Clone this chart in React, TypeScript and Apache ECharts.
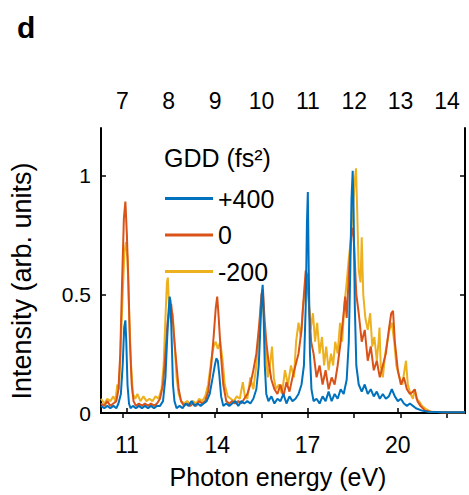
import React, { useEffect, useRef } from "react";
import * as echarts from "echarts";

const FONT = "'Liberation Sans', Arial, Helvetica, sans-serif";

const seriesNames = ["+400", "0", "-200"];
const seriesColors = ["#0072BD", "#D95319", "#EDB120"];
const energyTicks = [11, 14, 17, 20];
const harmonicOrders = [7, 8, 9, 10, 11, 12, 13, 14];
const harmonicEnergies = [10.85, 12.39, 13.93, 15.47, 17.01, 18.55, 20.09, 21.63];
const intensityTicks = [0, 0.5, 1];

// GDD = +400 fs^2 (blue)
const gddPlus400: [number, number][] = [
  [10.14, 0.03], [10.25, 0.02], [10.35, 0.03], [10.45, 0.02], [10.55, 0.03], [10.65, 0.02], [10.72, 0.04],
  [10.8, 0.08], [10.86, 0.2], [10.91, 0.36], [10.95, 0.39], [10.98, 0.3], [11.02, 0.12], [11.07, 0.04],
  [11.12, 0.02], [11.2, 0.03], [11.3, 0.02], [11.4, 0.03], [11.5, 0.02], [11.6, 0.03], [11.7, 0.02],
  [11.8, 0.03], [11.9, 0.02], [12.0, 0.03], [12.1, 0.03], [12.2, 0.05], [12.28, 0.15], [12.34, 0.32],
  [12.38, 0.42], [12.42, 0.49], [12.45, 0.47], [12.49, 0.3], [12.53, 0.12], [12.58, 0.05], [12.65, 0.02],
  [12.75, 0.03], [12.85, 0.02], [12.95, 0.04], [13.05, 0.03], [13.15, 0.05], [13.25, 0.03], [13.35, 0.04],
  [13.45, 0.03], [13.55, 0.04], [13.65, 0.05], [13.75, 0.08], [13.85, 0.15], [13.92, 0.2], [13.97, 0.23],
  [14.02, 0.22], [14.07, 0.16], [14.13, 0.07], [14.2, 0.03], [14.3, 0.04], [14.4, 0.03], [14.5, 0.04],
  [14.6, 0.05], [14.7, 0.03], [14.8, 0.05], [14.9, 0.04], [15.0, 0.05], [15.1, 0.04], [15.2, 0.06],
  [15.3, 0.1], [15.38, 0.2], [15.44, 0.38], [15.48, 0.5], [15.51, 0.54], [15.54, 0.42], [15.58, 0.2],
  [15.63, 0.08], [15.7, 0.05], [15.8, 0.07], [15.9, 0.04], [16.0, 0.06], [16.1, 0.05], [16.2, 0.08],
  [16.3, 0.04], [16.4, 0.07], [16.5, 0.05], [16.6, 0.06], [16.7, 0.08], [16.8, 0.12], [16.88, 0.2],
  [16.94, 0.45], [16.98, 0.8], [17.01, 0.93], [17.04, 0.6], [17.08, 0.25], [17.13, 0.1], [17.2, 0.05],
  [17.3, 0.06], [17.4, 0.04], [17.5, 0.07], [17.6, 0.05], [17.7, 0.09], [17.8, 0.05], [17.9, 0.08],
  [18.0, 0.06], [18.1, 0.1], [18.2, 0.08], [18.3, 0.14], [18.37, 0.3], [18.42, 0.6], [18.46, 0.9],
  [18.5, 1.02], [18.53, 0.85], [18.57, 0.45], [18.62, 0.2], [18.7, 0.12], [18.8, 0.09], [18.9, 0.12],
  [19.0, 0.08], [19.1, 0.1], [19.2, 0.07], [19.3, 0.09], [19.4, 0.06], [19.5, 0.08], [19.6, 0.06],
  [19.7, 0.07], [19.8, 0.1], [19.9, 0.07], [20.0, 0.05], [20.1, 0.06], [20.2, 0.04], [20.3, 0.03],
  [20.4, 0.04], [20.5, 0.03], [20.6, 0.02], [20.8, 0.01], [21.0, 0.005], [21.5, 0.003], [22.23, 0.003],
];

// GDD = 0 fs^2 (orange)
const gddZero: [number, number][] = [
  [10.14, 0.04], [10.25, 0.03], [10.35, 0.05], [10.45, 0.03], [10.55, 0.04], [10.65, 0.05], [10.72, 0.1],
  [10.78, 0.25], [10.84, 0.55], [10.9, 0.82], [10.95, 0.89], [11.0, 0.75], [11.05, 0.55], [11.1, 0.3],
  [11.16, 0.12], [11.22, 0.05], [11.3, 0.03], [11.4, 0.04], [11.5, 0.03], [11.6, 0.04], [11.7, 0.03],
  [11.8, 0.04], [11.9, 0.03], [12.0, 0.04], [12.1, 0.06], [12.2, 0.12], [12.28, 0.25], [12.35, 0.38],
  [12.42, 0.44], [12.47, 0.46], [12.52, 0.4], [12.58, 0.3], [12.65, 0.2], [12.72, 0.1], [12.8, 0.05],
  [12.9, 0.03], [13.0, 0.04], [13.1, 0.03], [13.2, 0.04], [13.3, 0.03], [13.4, 0.05], [13.5, 0.04],
  [13.6, 0.05], [13.7, 0.09], [13.8, 0.2], [13.88, 0.32], [13.95, 0.44], [14.0, 0.49], [14.05, 0.4],
  [14.12, 0.25], [14.2, 0.12], [14.3, 0.05], [14.4, 0.04], [14.5, 0.05], [14.6, 0.04], [14.7, 0.05],
  [14.8, 0.04], [14.9, 0.06], [15.0, 0.08], [15.1, 0.12], [15.2, 0.18], [15.3, 0.25], [15.4, 0.38],
  [15.47, 0.5], [15.52, 0.52], [15.57, 0.4], [15.63, 0.3], [15.7, 0.22], [15.8, 0.14], [15.9, 0.1],
  [16.0, 0.08], [16.1, 0.12], [16.2, 0.07], [16.3, 0.13], [16.4, 0.09], [16.5, 0.15], [16.6, 0.2],
  [16.7, 0.25], [16.8, 0.35], [16.88, 0.5], [16.94, 0.6], [16.99, 0.58], [17.05, 0.45], [17.12, 0.3],
  [17.2, 0.25], [17.3, 0.15], [17.4, 0.2], [17.5, 0.12], [17.6, 0.18], [17.7, 0.1], [17.8, 0.15],
  [17.9, 0.12], [18.0, 0.2], [18.1, 0.3], [18.2, 0.42], [18.25, 0.49], [18.3, 0.4], [18.38, 0.6],
  [18.45, 0.75], [18.5, 0.78], [18.55, 0.7], [18.62, 0.5], [18.7, 0.42], [18.8, 0.3], [18.9, 0.35],
  [19.0, 0.22], [19.1, 0.28], [19.2, 0.18], [19.3, 0.22], [19.4, 0.15], [19.5, 0.2], [19.6, 0.25],
  [19.7, 0.35], [19.78, 0.42], [19.84, 0.43], [19.9, 0.3], [20.0, 0.18], [20.1, 0.12], [20.2, 0.15],
  [20.3, 0.1], [20.4, 0.08], [20.5, 0.09], [20.56, 0.1], [20.65, 0.05], [20.75, 0.03], [20.9, 0.01],
  [21.1, 0.005], [21.5, 0.003], [22.23, 0.003],
];

// GDD = -200 fs^2 (yellow)
const gddMinus200: [number, number][] = [
  [10.14, 0.06], [10.25, 0.04], [10.35, 0.06], [10.45, 0.05], [10.55, 0.07], [10.62, 0.05], [10.68, 0.12],
  [10.74, 0.1], [10.8, 0.3], [10.86, 0.5], [10.92, 0.68], [10.97, 0.72], [11.02, 0.65], [11.08, 0.4],
  [11.14, 0.2], [11.2, 0.08], [11.28, 0.06], [11.35, 0.08], [11.45, 0.05], [11.55, 0.07], [11.65, 0.05],
  [11.75, 0.06], [11.85, 0.05], [11.95, 0.07], [12.05, 0.06], [12.15, 0.1], [12.22, 0.2], [12.28, 0.4],
  [12.33, 0.55], [12.36, 0.57], [12.4, 0.45], [12.46, 0.38], [12.52, 0.42], [12.58, 0.3], [12.65, 0.15],
  [12.72, 0.08], [12.8, 0.05], [12.9, 0.04], [13.0, 0.05], [13.1, 0.04], [13.2, 0.05], [13.3, 0.04],
  [13.4, 0.06], [13.5, 0.05], [13.6, 0.07], [13.7, 0.12], [13.8, 0.22], [13.88, 0.28], [13.95, 0.3],
  [14.02, 0.27], [14.1, 0.3], [14.18, 0.22], [14.25, 0.12], [14.35, 0.07], [14.45, 0.06], [14.55, 0.05],
  [14.65, 0.07], [14.75, 0.06], [14.85, 0.13], [14.92, 0.07], [15.0, 0.06], [15.1, 0.15], [15.2, 0.1],
  [15.3, 0.2], [15.38, 0.32], [15.45, 0.45], [15.5, 0.5], [15.56, 0.38], [15.62, 0.25], [15.68, 0.15],
  [15.75, 0.2], [15.82, 0.28], [15.88, 0.15], [15.95, 0.1], [16.05, 0.12], [16.15, 0.08], [16.25, 0.18],
  [16.35, 0.12], [16.45, 0.2], [16.55, 0.15], [16.62, 0.3], [16.7, 0.38], [16.78, 0.32], [16.85, 0.45],
  [16.92, 0.52], [16.98, 0.55], [17.04, 0.48], [17.1, 0.35], [17.18, 0.42], [17.25, 0.3], [17.32, 0.38],
  [17.4, 0.25], [17.48, 0.32], [17.55, 0.2], [17.62, 0.28], [17.7, 0.18], [17.78, 0.25], [17.85, 0.2],
  [17.92, 0.3], [18.0, 0.25], [18.08, 0.38], [18.15, 0.3], [18.22, 0.45], [18.3, 0.55], [18.37, 0.65],
  [18.43, 0.72], [18.5, 0.85], [18.57, 0.98], [18.61, 1.03], [18.65, 0.85], [18.7, 0.6], [18.76, 0.55],
  [18.8, 0.74], [18.85, 0.5], [18.92, 0.4], [19.0, 0.35], [19.08, 0.42], [19.15, 0.28], [19.22, 0.32],
  [19.3, 0.22], [19.36, 0.3], [19.39, 0.36], [19.43, 0.2], [19.5, 0.15], [19.58, 0.25], [19.65, 0.3],
  [19.72, 0.35], [19.8, 0.38], [19.88, 0.3], [19.95, 0.2], [20.05, 0.15], [20.15, 0.12], [20.22, 0.18],
  [20.27, 0.22], [20.33, 0.12], [20.42, 0.08], [20.5, 0.06], [20.56, 0.1], [20.62, 0.06], [20.7, 0.05],
  [20.8, 0.03], [20.95, 0.015], [21.1, 0.005], [21.5, 0.003], [22.23, 0.003],
];

const X_MIN = 10.14;
const X_MAX = 22.23;
const Y_MIN = 0;
const Y_MAX = 1.2;

export default function App() {
  const ref = useRef<HTMLDivElement>(null);

  useEffect(() => {
    if (!ref.current) return;
    const chart = echarts.init(ref.current, undefined, { renderer: "svg" });

    const frameLine = { show: true, lineStyle: { color: "#000", width: 2 } };
    const tickStyle = { color: "#000", width: 1.5 };
    const labelBase = { color: "#000", fontFamily: FONT, fontSize: 23 };

    const option: any = {
      animation: false,
      backgroundColor: "#fff",
      grid: { left: 101, right: 4, top: 128, bottom: 82, containLabel: false },
      xAxis: [
        {
          type: "value",
          position: "bottom",
          min: X_MIN,
          max: X_MAX,
          axisLine: frameLine,
          axisTick: { show: true, inside: true, length: 5, customValues: energyTicks, lineStyle: tickStyle },
          axisLabel: { ...labelBase, customValues: energyTicks, margin: 20, formatter: (v: number) => String(v) },
          splitLine: { show: false },
        },
        {
          type: "value",
          position: "top",
          min: X_MIN,
          max: X_MAX,
          axisLine: frameLine,
          axisTick: { show: true, inside: true, length: 5, customValues: harmonicEnergies, lineStyle: tickStyle },
          axisLabel: {
            ...labelBase,
            customValues: harmonicEnergies,
            margin: 16,
            formatter: (v: number) => {
              const i = harmonicEnergies.findIndex((e) => Math.abs(e - v) < 1e-6);
              return i >= 0 ? String(harmonicOrders[i]) : "";
            },
          },
          splitLine: { show: false },
        },
      ],
      yAxis: [
        {
          type: "value",
          position: "left",
          min: Y_MIN,
          max: Y_MAX,
          axisLine: frameLine,
          axisTick: { show: true, inside: true, length: 5, customValues: intensityTicks, lineStyle: tickStyle },
          axisLabel: {
            ...labelBase,
            fontSize: 21,
            customValues: intensityTicks,
            margin: 10,
            formatter: (v: number) => String(v),
          },
          splitLine: { show: false },
        },
        {
          type: "value",
          position: "right",
          min: Y_MIN,
          max: Y_MAX,
          axisLine: frameLine,
          axisTick: { show: true, inside: true, length: 5, customValues: intensityTicks, lineStyle: tickStyle },
          axisLabel: { show: false },
          splitLine: { show: false },
        },
      ],
      legend: {
        data: seriesNames,
        orient: "vertical",
        left: 165,
        top: 186,
        padding: 0,
        itemWidth: 48,
        itemHeight: 3,
        itemGap: 11.5,
        icon: "rect",
        textStyle: { color: "#000", fontFamily: FONT, fontSize: 25, lineHeight: 21 },
      },
      graphic: [
        {
          type: "text",
          x: 17,
          y: 27,
          style: { text: "d", font: `bold 30px ${FONT}`, fill: "#000", align: "left", verticalAlign: "middle" },
        },
        {
          type: "text",
          x: 164,
          y: 158,
          style: { text: "GDD (fs²)", font: `25px ${FONT}`, fill: "#000", align: "left", verticalAlign: "middle" },
        },
        {
          type: "text",
          x: 22,
          y: 281,
          rotation: Math.PI / 2,
          style: {
            text: "Intensity (arb. units)",
            font: `27px ${FONT}`,
            fill: "#000",
            align: "center",
            verticalAlign: "middle",
          },
        },
        {
          type: "text",
          x: 278,
          y: 477,
          style: {
            text: "Photon energy (eV)",
            font: `25px ${FONT}`,
            fill: "#000",
            align: "center",
            verticalAlign: "middle",
          },
        },
      ],
      series: [
        { name: seriesNames[2], data: gddMinus200, color: seriesColors[2] },
        { name: seriesNames[1], data: gddZero, color: seriesColors[1] },
        { name: seriesNames[0], data: gddPlus400, color: seriesColors[0] },
      ].map((s) => ({
        type: "line",
        name: s.name,
        data: s.data,
        xAxisIndex: 0,
        yAxisIndex: 0,
        symbol: "none",
        showSymbol: false,
        clip: true,
        itemStyle: { color: s.color },
        lineStyle: { color: s.color, width: 2 },
      })),
    };

    chart.setOption(option);
    return () => chart.dispose();
  }, []);

  return (
    <div
      ref={ref}
      style={{ position: "fixed", left: 0, top: 0, width: 469, height: 495, background: "#fff" }}
    />
  );
}
